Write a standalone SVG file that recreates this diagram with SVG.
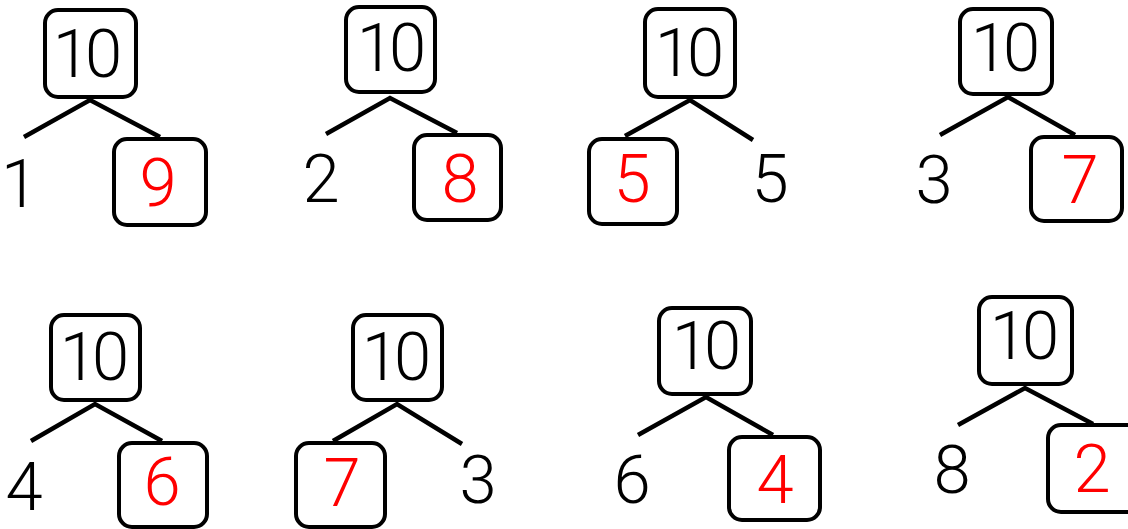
<svg xmlns="http://www.w3.org/2000/svg" width="1128" height="529" viewBox="0 0 1128 529">
<style>
.box{fill:none;stroke:#000;stroke-width:4}
.ln{stroke:#000;stroke-width:4.5;fill:none}
.t{font-family:Roboto,"Noto Sans","Liberation Sans",sans-serif;font-weight:300;font-size:67px;text-anchor:middle;fill:#000}
.ten{letter-spacing:-5px}
.r{fill:#ff0000}
</style>
<rect width="1128" height="529" fill="#fff"/>
<g id="connectors">
<path class="ln" d="M24,137 L90,100 L160,137"/>
<path class="ln" d="M326,134 L390,98 L457,133"/>
<path class="ln" d="M625,136 L690,100 L753,140"/>
<path class="ln" d="M940,135 L1008,97 L1075,135"/>
<path class="ln" d="M31,441 L95,404 L162,441"/>
<path class="ln" d="M333,441 L397,404 L462,444"/>
<path class="ln" d="M638,435 L706,397 L773,435"/>
<path class="ln" d="M958,425 L1025,388 L1093,424"/>
</g>
<g id="tree1">
<g id="n1-top"><rect class="box" x="45" y="10" width="91" height="87" rx="13"/><text class="t ten" x="85" y="77">10</text></g>
<g id="n1-left"><text class="t" x="1" y="207" style="text-anchor:start">1</text></g>
<g id="n1-right"><rect class="box" x="114" y="139" width="92" height="86" rx="13"/><text class="t r" x="158" y="206">9</text></g>
</g>
<g id="tree2">
<g id="n2-top"><rect class="box" x="346" y="7" width="89" height="85" rx="13"/><text class="t ten" x="389" y="71">10</text></g>
<g id="n2-left"><text class="t" x="321" y="202">2</text></g>
<g id="n2-right"><rect class="box" x="414" y="135" width="87" height="85" rx="13"/><text class="t r" x="460" y="202">8</text></g>
</g>
<g id="tree3">
<g id="n3-top"><rect class="box" x="645" y="9" width="90" height="88" rx="13"/><text class="t ten" x="687" y="76">10</text></g>
<g id="n3-left"><rect class="box" x="589" y="139" width="88" height="85" rx="13"/><text class="t r" x="632" y="202">5</text></g>
<g id="n3-right"><text class="t" x="770" y="202">5</text></g>
</g>
<g id="tree4">
<g id="n4-top"><rect class="box" x="960" y="9" width="92" height="85" rx="13"/><text class="t ten" x="1003" y="71">10</text></g>
<g id="n4-left"><text class="t" x="934" y="203">3</text></g>
<g id="n4-right"><rect class="box" x="1031" y="137" width="91" height="84" rx="13"/><text class="t r" x="1080" y="203">7</text></g>
</g>
<g id="tree5">
<g id="n5-top"><rect class="box" x="51" y="315" width="89" height="85" rx="13"/><text class="t ten" x="92" y="380">10</text></g>
<g id="n5-left"><text class="t" x="24" y="510">4</text></g>
<g id="n5-right"><rect class="box" x="119" y="443" width="88" height="84" rx="13"/><text class="t r" x="162" y="505">6</text></g>
</g>
<g id="tree6">
<g id="n6-top"><rect class="box" x="353" y="315" width="89" height="85" rx="13"/><text class="t ten" x="394" y="380">10</text></g>
<g id="n6-left"><rect class="box" x="296" y="443" width="89" height="84" rx="13"/><text class="t r" x="342" y="506">7</text></g>
<g id="n6-right"><text class="t" x="478" y="503">3</text></g>
</g>
<g id="tree7">
<g id="n7-top"><rect class="box" x="659" y="308" width="92" height="86" rx="13"/><text class="t ten" x="704" y="369">10</text></g>
<g id="n7-left"><text class="t" x="632" y="503">6</text></g>
<g id="n7-right"><rect class="box" x="729" y="437" width="91" height="83" rx="13"/><text class="t r" x="775" y="503">4</text></g>
</g>
<g id="tree8">
<g id="n8-top"><rect class="box" x="979" y="297" width="93" height="87" rx="13"/><text class="t ten" x="1022" y="359">10</text></g>
<g id="n8-left"><text class="t" x="952" y="493">8</text></g>
<g id="n8-right"><rect class="box" x="1048" y="425" width="92" height="87" rx="13"/><text class="t r" x="1092" y="492">2</text></g>
</g>
</svg>
